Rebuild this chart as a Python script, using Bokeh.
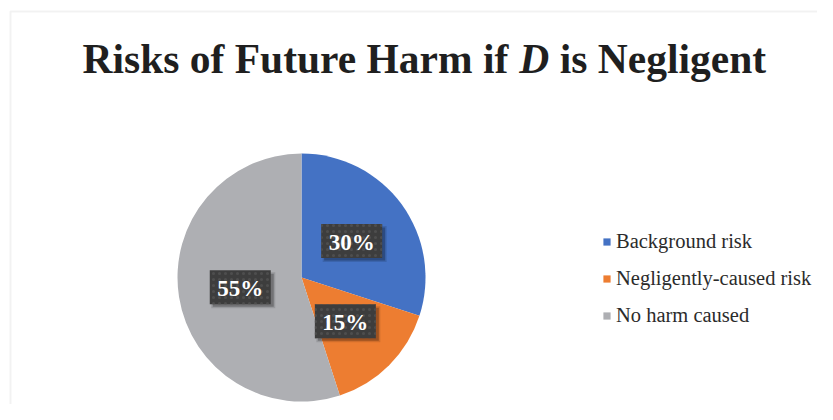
import math
from bokeh.plotting import figure
from bokeh.models import ColumnDataSource, Label, Legend, LegendItem, BoxAnnotation
from bokeh.core.properties import value
from bokeh.embed import file_html
from bokeh.resources import INLINE

# ---- data ----
categories = ["Background risk", "Negligently-caused risk", "No harm caused"]
shares = [30, 15, 55]
colors = ["#4472C4", "#ED7D31", "#AEAFB3"]
title_parts = ["Risks of Future Harm if", "D", "is Negligent"]

# ---- layout (figure pixels used as data units) ----
W, H = 817, 404
def py(page_y):
    return H - page_y

cx, cy, r = 301, py(277), 124

total = float(sum(shares))
starts, ends, lx, ly, labels = [], [], [], [], []
cum = 0.0
for s in shares:
    a0 = math.pi / 2 - 2 * math.pi * cum / total
    cum += s
    a1 = math.pi / 2 - 2 * math.pi * cum / total
    starts.append(a0)
    ends.append(a1)
    mid = (a0 + a1) / 2
    lx.append(cx + 0.5 * r * math.cos(mid))
    ly.append(cy + 0.5 * r * math.sin(mid))
    labels.append(f"{s}%")

src = ColumnDataSource(dict(cat=categories, start=starts, end=ends, color=colors,
                            lx=lx, ly=ly, lab=labels,
                            sx=[x + 3 for x in lx], sy=[y - 3 for y in ly]))

p = figure(width=W, height=H, x_range=(0, W), y_range=(0, H),
           x_axis_type=None, y_axis_type=None, toolbar_location=None,
           output_backend="svg", min_border=0)
p.outline_line_color = None
p.background_fill_color = "white"
p.border_fill_color = "white"

# chart border (top and left visible)
p.add_layout(BoxAnnotation(left=10, top=py(11), right=3000, bottom=-3000,
                           fill_color=None, fill_alpha=0, line_color="#d4d4d4", line_width=2))

wedges = p.wedge(x=cx, y=cy, radius=r, start_angle="start", end_angle="end",
                 direction="clock", fill_color="color", line_color=None, source=src)

# data label boxes with shadow
p.rect(x="sx", y="sy", width=64, height=36, width_units="screen", height_units="screen",
       fill_color="black", fill_alpha=0.12, line_color=None, source=src)
p.rect(x="sx", y="sy", width=61, height=33, width_units="screen", height_units="screen",
       fill_color="black", fill_alpha=0.25, line_color=None, source=src)
p.rect(x="lx", y="ly", width=61, height=34, width_units="screen", height_units="screen",
       fill_color="#3d3d3d", line_color=None, hatch_pattern="dot", hatch_color="#4e4e4e",
       hatch_scale=6, hatch_weight=1, source=src)
p.text(x="lx", y="ly", text="lab", text_align="center", text_baseline="middle",
       text_font=value("Liberation Serif"), text_font_style="bold", text_font_size="23px",
       text_color="white", y_offset=1, source=src)

# title, with italic D
tf = 41.5
base = py(58)
x0 = 82
w1 = 10.277 * tf
sp = 0.25 * tf
wD = 0.722 * tf
for txt, x, style in [(title_parts[0], x0, "bold"),
                      (title_parts[1], x0 + w1 + sp, "bold italic"),
                      (title_parts[2], x0 + w1 + sp + wD + sp, "bold")]:
    p.add_layout(Label(x=x, y=base, text=txt, text_align="left", text_baseline="alphabetic",
                       text_font="Liberation Serif", text_font_style=style,
                       text_font_size=f"{tf}px", text_color="#1f1f1f"))

legend = Legend(items=[LegendItem(label=c, renderers=[wedges], index=i) for i, c in enumerate(categories)],
                location=(602, 85 - 8), orientation="vertical",
                glyph_width=9, glyph_height=9, label_standoff=5, label_height=24,
                spacing=13, padding=0, margin=0,
                background_fill_alpha=0, border_line_color=None,
                label_text_font="Liberation Serif", label_text_font_size="20.5px",
                label_text_color="#2b2b2b")
p.add_layout(legend)

open("out.html", "w").write(file_html(p, INLINE))
